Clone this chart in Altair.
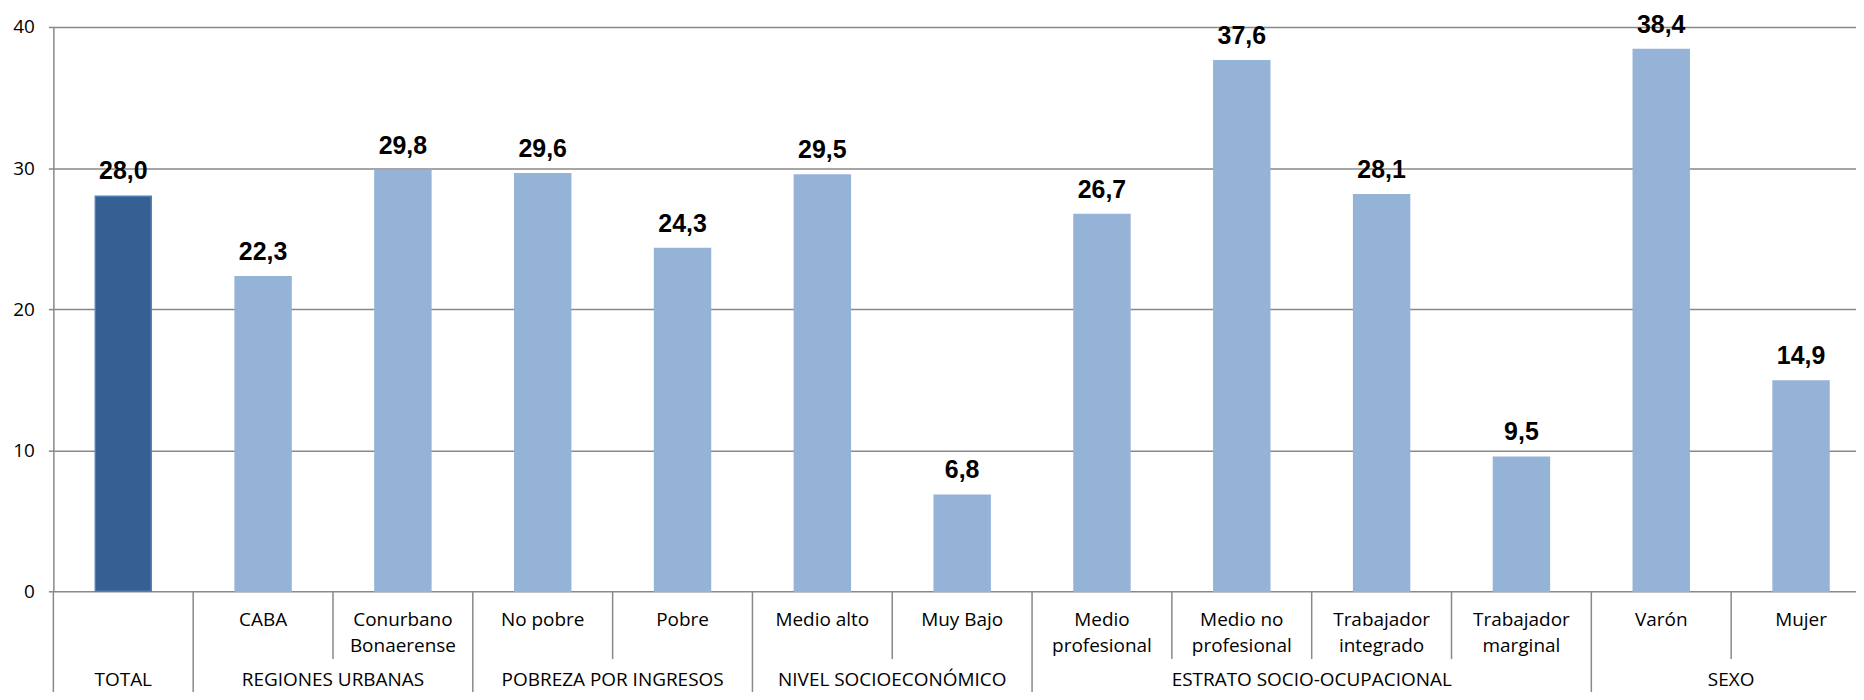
import altair as alt
import pandas as pd

cats = ["TOTAL", "CABA", "Conurbano Bonaerense", "No pobre", "Pobre", "Medio alto",
        "Muy Bajo", "Medio profesional", "Medio no profesional", "Trabajador integrado",
        "Trabajador marginal", "Varón", "Mujer"]
values = [28.0, 22.3, 29.8, 29.6, 24.3, 29.5, 6.8, 26.7, 37.6, 28.1, 9.5, 38.4, 14.9]
sub_labels = ["", "CABA", "Conurbano\nBonaerense", "No pobre", "Pobre", "Medio alto",
              "Muy Bajo", "Medio\nprofesional", "Medio no\nprofesional", "Trabajador\nintegrado",
              "Trabajador\nmarginal", "Varón", "Mujer"]
kinds = ["total"] + ["sub"] * 12

group_names = ["TOTAL", "REGIONES URBANAS", "POBREZA POR INGRESOS", "NIVEL SOCIOECONÓMICO",
               "ESTRATO SOCIO-OCUPACIONAL", "SEXO"]
group_members = [["TOTAL"], ["CABA", "Conurbano Bonaerense"], ["No pobre", "Pobre"],
                 ["Medio alto", "Muy Bajo"],
                 ["Medio profesional", "Medio no profesional", "Trabajador integrado", "Trabajador marginal"],
                 ["Varón", "Mujer"]]

H = 566
W = 1808
XR = 1823
GRAY = "#898989"
FONT = "Open Sans"
FS = 19

df = pd.DataFrame({"cat": cats, "value": values, "kind": kinds, "sub_label": sub_labels})

g_rows = []
for name, mem in zip(group_names, group_members):
    n = len(mem)
    g_rows.append({"name": name, "anchor": mem[n // 2], "mode": "edge" if n % 2 == 0 else "mid"})
gdf = pd.DataFrame(g_rows)

sub_sep = []
grp_sep = []
for mem in group_members:
    grp_sep.append(mem[0])
    for c in mem[1:]:
        sub_sep.append(c)
sub_df = pd.DataFrame({"cat": sub_sep})
grp_df = pd.DataFrame({"cat": grp_sep})

xscale = alt.Scale(domain=cats, paddingInner=0, paddingOuter=0, range=[0, XR])
x_mid = alt.X("cat:N", scale=xscale, axis=None)
x_edge = alt.X("cat:N", scale=xscale, axis=None, bandPosition=0)

yaxis = alt.Axis(values=[0, 10, 20, 30, 40], title=None, labelFont=FONT, labelFontSize=19,
                 labelColor="black", domainColor=GRAY, domainWidth=1.5, tickColor=GRAY,
                 tickSize=5, tickWidth=1.5, gridColor=GRAY, gridWidth=1.5, labelPadding=14)
y_enc = alt.Y("value:Q", scale=alt.Scale(domain=[0, 40], nice=False), axis=yaxis)

base = alt.Chart(df)

bars = base.mark_bar(width=alt.RelativeBandSize(0.40), strokeWidth=1.5).encode(
    x=x_mid,
    y=y_enc,
    color=alt.Color("kind:N", scale=alt.Scale(domain=["total", "sub"], range=["#366092", "#95B3D7"]), legend=None),
    stroke=alt.Stroke("kind:N", scale=alt.Scale(domain=["total", "sub"], range=["#4F81BD", "#95B3D7"]), legend=None),
)

labels = base.transform_calculate(
    lbl="replace(format(datum.value, '.1f'), '.', ',')"
).mark_text(font="Liberation Sans", fontSize=25, fontWeight="bold", baseline="alphabetic",
            dy=-17, color="black").encode(x=x_mid, y="value:Q", text="lbl:N")

sub_text = base.mark_text(font=FONT, fontSize=FS, baseline="alphabetic", lineBreak="\n",
                          lineHeight=26.6, color="black").encode(
    x=x_mid, y=alt.value(H + 34.7), text="sub_label:N")

g_edge = alt.Chart(gdf).transform_filter("datum.mode == 'edge'").mark_text(
    font=FONT, fontSize=FS, baseline="alphabetic", color="black").encode(
    x=alt.X("anchor:N", scale=xscale, axis=None, bandPosition=0), y=alt.value(H + 95), text="name:N")
g_mid = alt.Chart(gdf).transform_filter("datum.mode == 'mid'").mark_text(
    font=FONT, fontSize=FS, baseline="alphabetic", color="black").encode(
    x=alt.X("anchor:N", scale=xscale, axis=None), y=alt.value(H + 95), text="name:N")

sub_rules = alt.Chart(sub_df).mark_rule(color=GRAY, strokeWidth=1.5).encode(
    x=x_edge, y=alt.value(H), y2=alt.value(H + 68))
grp_rules = alt.Chart(grp_df).mark_rule(color=GRAY, strokeWidth=1.5).encode(
    x=x_edge, y=alt.value(H), y2=alt.value(H + 120))

chart = alt.layer(bars, labels, sub_text, g_edge, g_mid, sub_rules, grp_rules).properties(
    width=W, height=H,
    autosize=alt.AutoSizeParams(type="none"),
    padding={"left": 45.5, "top": 18, "right": 0, "bottom": 100},
).configure_view(stroke=None)

chart.save("out.html", embed_options={"renderer": "svg", "actions": False})
